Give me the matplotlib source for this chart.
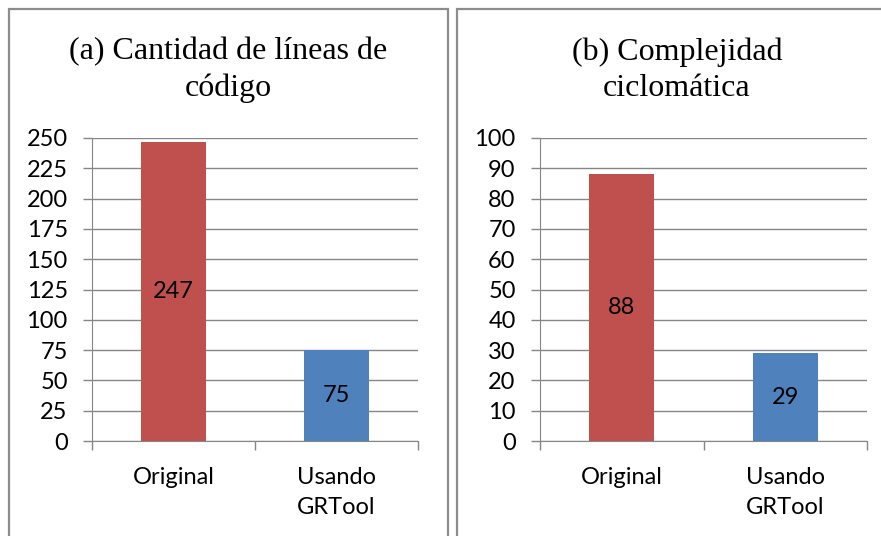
import matplotlib.pyplot as plt
from matplotlib.patches import Rectangle

# data
categorias = ["Original", "Usando\nGRTool"]
lineas_codigo = [247, 75]
complejidad = [88, 29]
colores = ["#C0504D", "#4F81BD"]

W, H = 881, 536
fig = plt.figure(figsize=(W / 100, H / 100), dpi=100)
fig.patch.set_facecolor("white")

# panel borders (pixel coords -> figure coords)
def caja(x0, y0, x1, y1):
    r = Rectangle((x0 / W, 1 - y1 / H), (x1 - x0) / W, (y1 - y0) / H,
                  transform=fig.transFigure, fill=False,
                  edgecolor="#8c8c8c", linewidth=1.6, clip_on=False)
    fig.patches.append(r)

caja(9, 9, 448, 545)
caja(457, 9, 890, 545)

FS = 17


def dibujar(x0, x1, valores, ymax, paso, titulo, xc):
    ax = fig.add_axes([x0 / W, (H - 441) / H, (x1 - x0) / W, 303 / H])
    ax.bar(range(len(valores)), valores, width=0.4, color=colores, zorder=3)
    ax.set_xlim(-0.5, 1.5)
    ax.set_ylim(0, ymax)
    ax.set_yticks(range(0, ymax + 1, paso))
    ax.set_xticks(range(len(categorias)))
    ax.set_xticklabels(categorias, fontfamily="Lato", fontsize=FS, linespacing=1.5)
    ax.set_xticks([-0.5, 0.5, 1.5], minor=True)
    ax.tick_params(axis="x", which="major", length=0, pad=19)
    ax.tick_params(axis="x", which="minor", length=6.5, color="#868686", width=1)
    ax.tick_params(axis="y", length=6.5, color="#868686", width=1, labelsize=FS, pad=11)
    for lab in ax.get_yticklabels():
        lab.set_fontfamily("Lato")
    ax.yaxis.grid(True, color="#868686", linewidth=1, zorder=0)
    for s in ["top", "right"]:
        ax.spines[s].set_visible(False)
    for s in ["left", "bottom"]:
        ax.spines[s].set_color("#868686")
    for i, v in enumerate(valores):
        ax.text(i, v / 2, str(v), ha="center", va="center",
                fontfamily="Lato", fontsize=FS, zorder=4)
    fig.text(xc / W, 1 - 70 / H, titulo, ha="center", va="center",
             fontfamily="Liberation Serif", fontsize=23, linespacing=1.32)


dibujar(92, 418, lineas_codigo, 250, 25, "(a) Cantidad de líneas de\ncódigo", 228)
dibujar(540, 867, complejidad, 100, 10, "(b) Complejidad\nciclomática", 677)

fig.savefig("out.png", dpi=100, facecolor="white")
